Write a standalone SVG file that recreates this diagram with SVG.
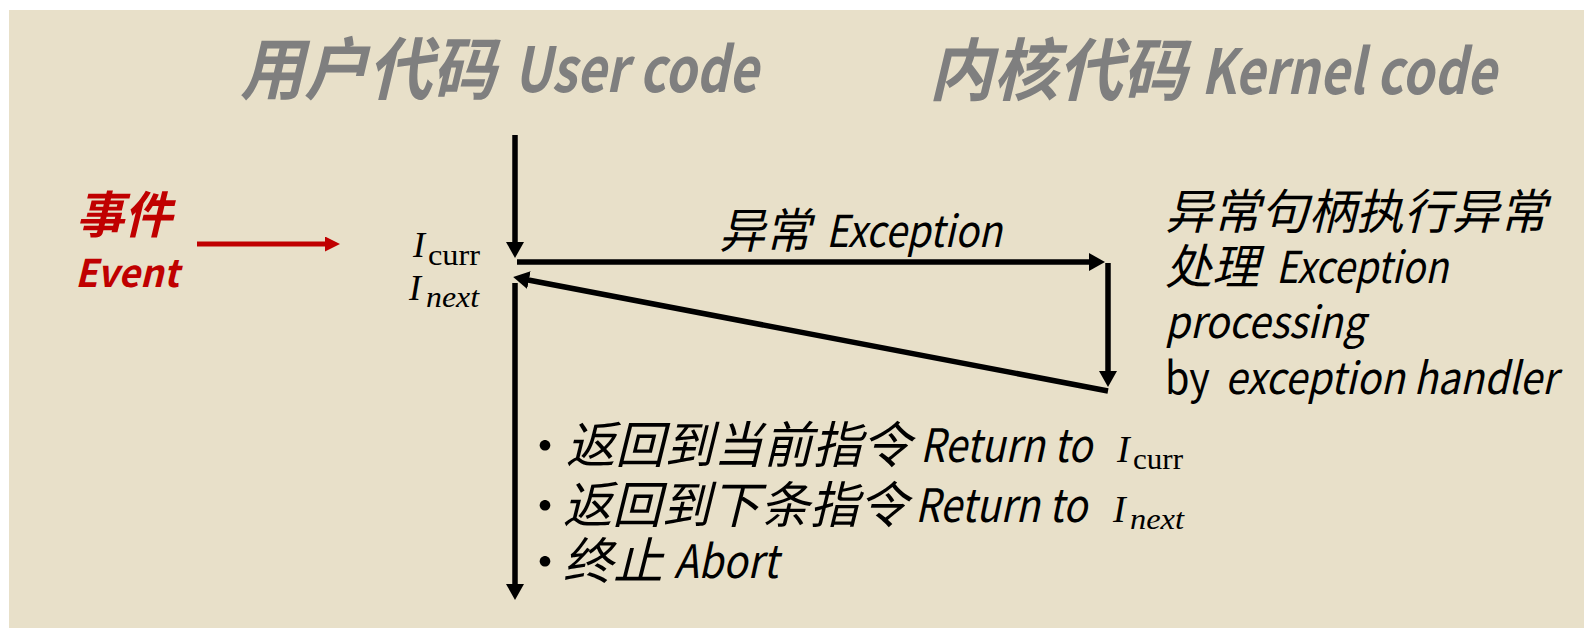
<svg xmlns="http://www.w3.org/2000/svg" width="1584" height="628" viewBox="0 0 1584 628">
  <style>
    .sans { font-family: "Noto Sans CJK SC", "Noto Sans", sans-serif; }
    .title { font-weight: 700; font-style: italic; fill: #7F7F7F; }
    .red { fill: #C00000; font-weight: 700; font-style: italic; }
    .body { fill: #000; font-style: italic; }
    .up { font-style: normal; }
    .math { font-family: "Liberation Serif", "DejaVu Serif", serif; fill: #000; }
    .mi { font-style: italic; }
    .conn { stroke: #000; stroke-width: 5.5; fill: none; }
  </style>
  <defs>
    <marker id="ah" markerUnits="userSpaceOnUse" markerWidth="17" markerHeight="18" refX="6" refY="9" orient="auto">
      <path d="M0,0 L16,9 L0,18 Z" fill="#000"/>
    </marker>
    <marker id="ahr" markerUnits="userSpaceOnUse" markerWidth="16" markerHeight="16" refX="5" refY="7.5" orient="auto">
      <path d="M0,0 L15,7.5 L0,15 Z" fill="#C00000"/>
    </marker>
  </defs>

  <rect x="9" y="10" width="1575" height="618" fill="#E8E0C9"/>

  <g id="title-user">
    <text class="sans title" x="240" y="94" font-size="68" textLength="256" lengthAdjust="spacingAndGlyphs">用户代码</text>
    <text class="sans title" x="514" y="92" font-size="62" textLength="244" lengthAdjust="spacingAndGlyphs">User code</text>
  </g>

  <g id="title-kernel">
    <text class="sans title" x="929" y="95" font-size="68" textLength="258" lengthAdjust="spacingAndGlyphs">内核代码</text>
    <text class="sans title" x="1201" y="94" font-size="62" textLength="295" lengthAdjust="spacingAndGlyphs">Kernel code</text>
  </g>

  <g id="event">
    <text class="sans red" x="76" y="233" font-size="50" textLength="96" lengthAdjust="spacingAndGlyphs">事件</text>
    <text class="sans red" x="75" y="287" font-size="38" textLength="104" lengthAdjust="spacingAndGlyphs">Event</text>
  </g>

  <g id="instr-labels">
    <text class="math mi" x="413" y="257" font-size="36">I</text>
    <text class="math" x="428" y="265" font-size="30" textLength="52" lengthAdjust="spacingAndGlyphs">curr</text>
    <text class="math mi" x="409" y="300" font-size="36">I</text>
    <text class="math mi" x="426" y="307" font-size="30" textLength="53" lengthAdjust="spacingAndGlyphs">next</text>
  </g>

  <g id="exception-label">
    <text class="sans body" x="719" y="248" font-size="48" textLength="92" lengthAdjust="spacingAndGlyphs">异常</text>
    <text class="sans body" x="826" y="247" font-size="44" textLength="176" lengthAdjust="spacingAndGlyphs">Exception</text>
  </g>

  <g id="handler-text">
    <text class="sans body" x="1165" y="229" font-size="48" textLength="382" lengthAdjust="spacingAndGlyphs">异常句柄执行异常</text>
    <text class="sans body" x="1165" y="284" font-size="48" textLength="94" lengthAdjust="spacingAndGlyphs">处理</text>
    <text class="sans body" x="1276" y="283" font-size="44" textLength="172" lengthAdjust="spacingAndGlyphs">Exception</text>
    <text class="sans body" x="1165" y="338" font-size="44" textLength="200" lengthAdjust="spacingAndGlyphs">processing</text>
    <text class="sans body up" x="1165" y="394" font-size="44" textLength="45" lengthAdjust="spacingAndGlyphs">by</text>
    <text class="sans body" x="1225" y="394" font-size="44" textLength="332" lengthAdjust="spacingAndGlyphs">exception handler</text>
  </g>

  <g id="return-options">
    <text class="sans body up" x="545" y="464" font-size="50" text-anchor="middle">•</text>
    <text class="sans body" x="566" y="463" font-size="50" textLength="345" lengthAdjust="spacingAndGlyphs">返回到当前指令</text>
    <text class="sans body" x="920" y="462" font-size="46" textLength="172" lengthAdjust="spacingAndGlyphs">Return to</text>
    <text class="math mi" x="1117" y="462" font-size="38">I</text>
    <text class="math" x="1133" y="469" font-size="30" textLength="50" lengthAdjust="spacingAndGlyphs">curr</text>

    <text class="sans body up" x="545" y="524" font-size="50" text-anchor="middle">•</text>
    <text class="sans body" x="563" y="523" font-size="50" textLength="345" lengthAdjust="spacingAndGlyphs">返回到下条指令</text>
    <text class="sans body" x="915" y="522" font-size="46" textLength="172" lengthAdjust="spacingAndGlyphs">Return to</text>
    <text class="math mi" x="1113" y="522" font-size="38">I</text>
    <text class="math mi" x="1130" y="529" font-size="30" textLength="54" lengthAdjust="spacingAndGlyphs">next</text>

    <text class="sans body up" x="545" y="580" font-size="50" text-anchor="middle">•</text>
    <text class="sans body" x="563" y="579" font-size="50" textLength="100" lengthAdjust="spacingAndGlyphs">终止</text>
    <text class="sans body" x="674" y="578" font-size="46" textLength="104" lengthAdjust="spacingAndGlyphs">Abort</text>
  </g>

  <g id="connectors">
    <line x1="197" y1="244" x2="330" y2="244" stroke="#C00000" stroke-width="5" marker-end="url(#ahr)"/>
    <line class="conn" x1="515" y1="135" x2="515" y2="248" marker-end="url(#ah)"/>
    <line class="conn" x1="517" y1="262" x2="1095" y2="262" marker-end="url(#ah)"/>
    <line class="conn" x1="1108" y1="263" x2="1108" y2="377" marker-end="url(#ah)"/>
    <line class="conn" x1="1108" y1="391" x2="523" y2="279" marker-end="url(#ah)"/>
    <line class="conn" x1="515" y1="283" x2="515" y2="590" marker-end="url(#ah)"/>
  </g>
</svg>
